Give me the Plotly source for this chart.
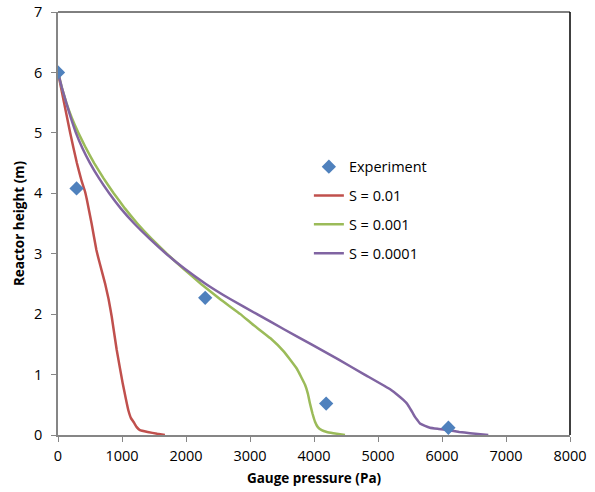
import plotly.graph_objects as go

# Experiment
exp_p = [0, 290, 2300, 4190, 6100]
exp_h = [6.0, 4.08, 2.27, 0.52, 0.12]

# S = 0.01
s1_p = [0, 95, 190, 295, 370, 422, 450, 525, 600, 650, 735, 790, 839, 917, 1010, 1060, 1099, 1140, 1190, 1230, 1280, 1400, 1550, 1670]
s1_h = [6.0, 5.5, 5.0, 4.5, 4.2, 4.03, 3.9, 3.5, 3.06, 2.85, 2.51, 2.25, 1.96, 1.41, 0.86, 0.6, 0.41, 0.28, 0.2, 0.13, 0.08, 0.05, 0.02, 0.0]

# S = 0.001
s2_p = [0, 60, 130, 215, 318, 435, 565, 710, 870, 1045, 1240, 1460, 1700, 1960, 2235, 2530, 2850, 3030, 3320, 3530, 3730, 3860, 3905, 3937, 3975, 4016, 4060, 4120, 4200, 4302, 4484]
s2_h = [6.0, 5.75, 5.5, 5.25, 5.0, 4.75, 4.5, 4.25, 4.0, 3.75, 3.5, 3.25, 3.0, 2.75, 2.5, 2.25, 2.0, 1.84, 1.6, 1.38, 1.10, 0.83, 0.68, 0.52, 0.36, 0.22, 0.13, 0.08, 0.05, 0.03, 0.0]

# S = 0.0001
s3_p = [0, 60, 128, 200, 280, 380, 500, 640, 800, 980, 1190, 1430, 1690, 1980, 2310, 2690, 3110, 3530, 3960, 4380, 4790, 5200, 5320, 5396, 5460, 5500, 5540, 5578, 5620, 5656, 5734, 5812, 5950, 6098, 6270, 6437, 6723]
s3_h = [6.0, 5.75, 5.5, 5.25, 5.0, 4.75, 4.5, 4.25, 4.0, 3.75, 3.5, 3.25, 3.0, 2.75, 2.5, 2.25, 2.0, 1.75, 1.5, 1.25, 1.0, 0.75, 0.65, 0.58, 0.51, 0.44, 0.37, 0.30, 0.24, 0.19, 0.15, 0.12, 0.10, 0.08, 0.05, 0.03, 0.0]

x_ticks = [0, 1000, 2000, 3000, 4000, 5000, 6000, 7000, 8000]
y_ticks = [0, 1, 2, 3, 4, 5, 6, 7]

font = "'Open Sans', Lato, sans-serif"

fig = go.Figure()
line_style = dict(width=2.5, shape="spline", smoothing=0.3)
fig.add_trace(go.Scatter(x=s1_p, y=s1_h, mode="lines", name="S = 0.01",
                         line=dict(color="#C0504D", **line_style),
                         legendgroup="b", legendrank=2))
fig.add_trace(go.Scatter(x=s2_p, y=s2_h, mode="lines", name="S = 0.001",
                         line=dict(color="#9BBB59", **line_style),
                         legendgroup="c", legendrank=3))
fig.add_trace(go.Scatter(x=s3_p, y=s3_h, mode="lines", name="S = 0.0001",
                         line=dict(color="#8064A2", **line_style),
                         legendgroup="d", legendrank=4))
fig.add_trace(go.Scatter(x=exp_p, y=exp_h, mode="markers", name="Experiment",
                         marker=dict(symbol="diamond", size=11, color="#4F81BD"),
                         legendgroup="a", legendrank=1))

fig.update_layout(
    width=595, height=492,
    margin=dict(l=58, r=25, t=12, b=57),
    paper_bgcolor="white", plot_bgcolor="white",
    font=dict(family=font, size=14.5, color="black"),
    showlegend=True,
    legend=dict(x=0.49, y=0.672, xanchor="left", yanchor="top",
                bgcolor="rgba(0,0,0,0)", font=dict(size=14.5),
                traceorder="grouped", tracegroupgap=7),
    xaxis=dict(range=[0, 8000], tickvals=x_ticks, ticktext=[str(v) for v in x_ticks],
               showgrid=False, zeroline=False, showline=True, linecolor="#868686", linewidth=1.5,
               ticks="outside", ticklen=5, tickcolor="#868686", automargin=False,
               ticklabelstandoff=2,
               title=dict(text="<b>Gauge pressure (Pa)</b>", standoff=9, font=dict(size=13.5))),
    yaxis=dict(range=[0, 7], tickvals=y_ticks, ticktext=[str(v) for v in y_ticks],
               showgrid=False, zeroline=False, showline=True, linecolor="#868686", linewidth=1.5,
               ticks="outside", ticklen=5, tickcolor="#868686", automargin=False,
               ticklabelstandoff=6,
               title=dict(text="<b>Reactor height (m)</b>", standoff=6, font=dict(size=13.5))),
    shapes=[
        dict(type="line", xref="x domain", yref="y domain", x0=0, x1=1, y0=1, y1=1,
             line=dict(color="black", width=1)),
        dict(type="line", xref="x domain", yref="y domain", x0=1, x1=1, y0=0, y1=1,
             line=dict(color="black", width=1.5)),
    ],
)

fig.write_html("out.html")
